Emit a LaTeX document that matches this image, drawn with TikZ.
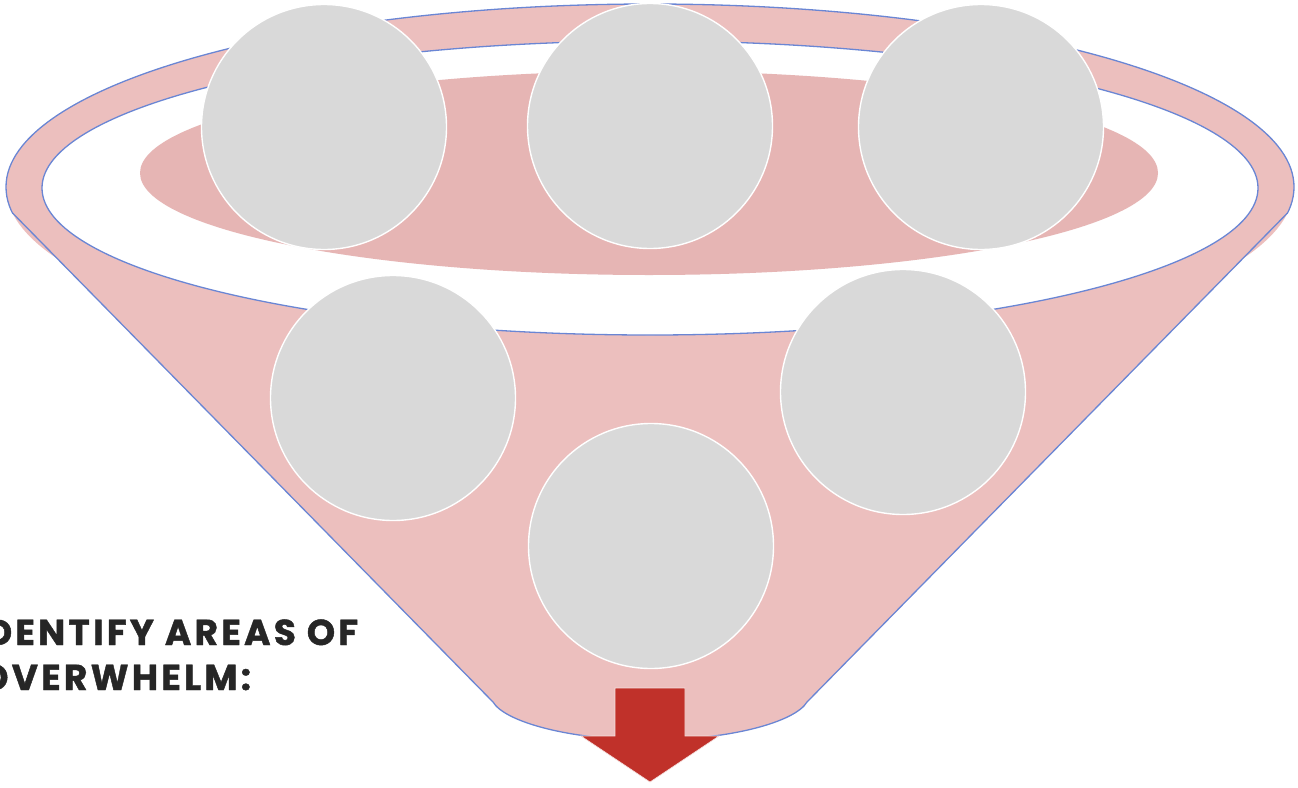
\documentclass[tikz,border=0pt]{standalone}
\usepackage{fontspec}
\newfontfamily\headfont{Poppins}[LetterSpace=9, BoldFeatures={FakeBold=1.2}]
\definecolor{funpink}{HTML}{ECBFBE}
\definecolor{darkpink}{HTML}{E6B5B4}
\definecolor{rimblue}{HTML}{6A86D4}
\definecolor{ballgray}{HTML}{D9D9D9}
\definecolor{arrowred}{HTML}{C0312A}
\definecolor{textdark}{HTML}{262626}
\tikzset{
  rim/.style={draw=rimblue, line width=1.3pt},
  ball/.style={circle, fill=ballgray, draw=white, line width=1.4pt, minimum size=245pt, inner sep=0pt},
  headline/.style={font=\headfont\bfseries\fontsize{36}{40}\selectfont, text=textdark, inner sep=0pt, anchor=base west},
}
\begin{document}
\begin{tikzpicture}[x=1pt,y=-1pt]
\useasboundingbox (0,0) rectangle (1298,787);
% funnel fill
\fill[funpink] (650,187) ellipse [x radius=644, y radius=183];
\fill[funpink] (12.5,213) -- (493,702) .. controls (505,722) and (570,740) .. (650,740)
   .. controls (730,740) and (795,722) .. (807,702) -- (1287.5,213) -- cycle;
% funnel outline
\begin{scope}
  \clip (-20,-20) rectangle (1320,213);
  \draw[rim] (650,187) ellipse [x radius=644, y radius=183];
\end{scope}
\draw[rim, line join=round] (12.5,213) -- (493,702) .. controls (505,722) and (570,740) .. (650,740)
   .. controls (730,740) and (795,722) .. (807,702) -- (1287.5,213);
% mouth
\filldraw[rim, fill=white] (650,188) ellipse [x radius=608, y radius=147];
\fill[darkpink] (649,173) ellipse [x radius=509, y radius=102];
% balls
\node[ball] (b1) at (324,127) {};
\node[ball] (b2) at (650,126) {};
\node[ball] (b3) at (981,127) {};
\node[ball] (b4) at (393,398) {};
\node[ball] (b5) at (903,392) {};
\node[ball] (b6) at (651,546) {};
% arrow
\filldraw[fill=arrowred, draw=white!85!arrowred, line width=0.6pt]
  (615,688) -- (685,688) -- (685,736) -- (719,736) -- (650,782) -- (581,736) -- (615,736) -- cycle;
% text
\node[headline] (t1) at (-28,645) {IDENTIFY AREAS OF};
\node[headline] (t2) at (-20,690) {OVERWHELM:};
\end{tikzpicture}
\end{document}
